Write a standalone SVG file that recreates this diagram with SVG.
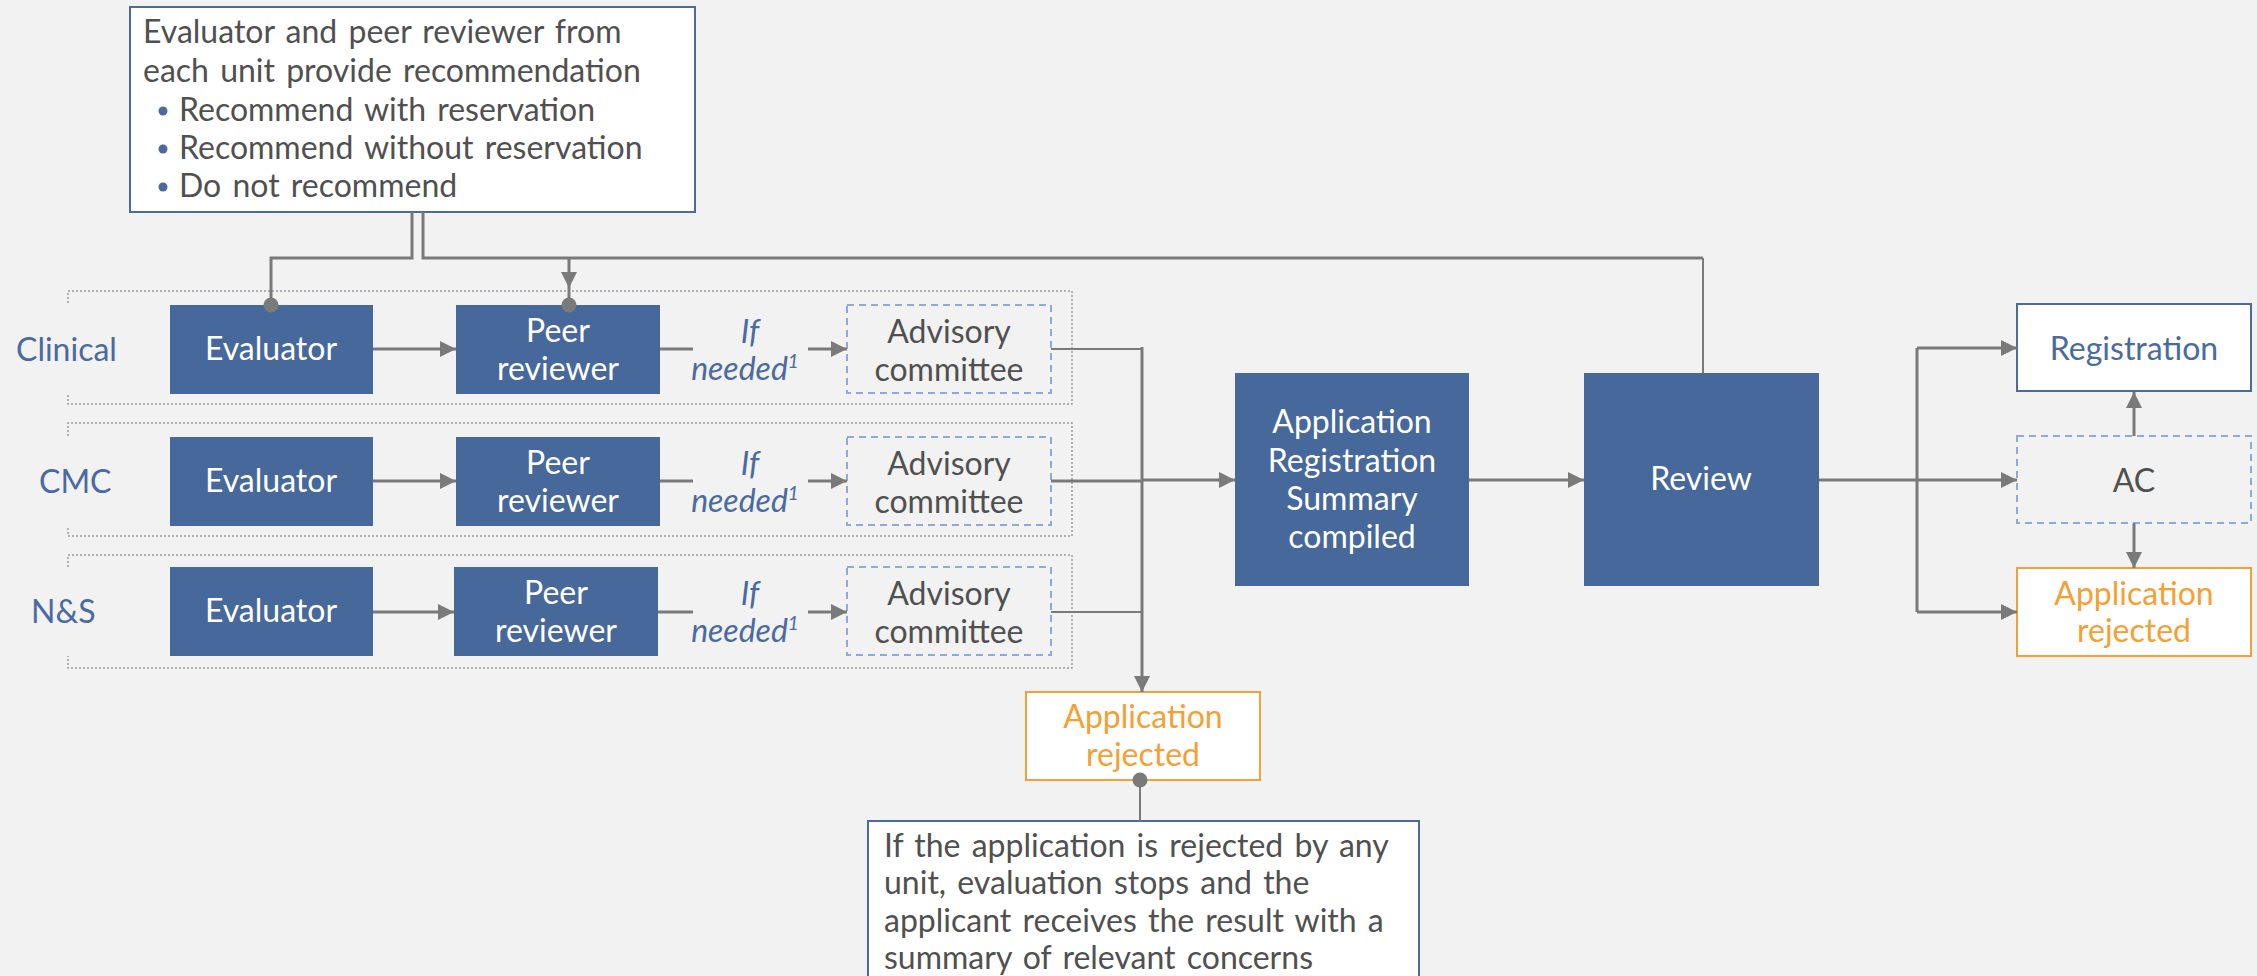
<svg xmlns="http://www.w3.org/2000/svg" width="2257" height="976" viewBox="0 0 2257 976">
<style>
.t{font-family:Lato,"Liberation Sans",sans-serif;font-size:32px}
.ws{word-spacing:3px}
.w{fill:#ffffff}
.g{fill:#505050}
.b{fill:#4a6aa0}
.o{fill:#f4a035}
.it{font-style:italic}
.m{text-anchor:middle}
.solid{fill:#47689b}
.dash{fill:none;stroke:#8eaadb;stroke-width:2;stroke-dasharray:7 5}
.grp{fill:none;stroke:#9a9a9a;stroke-width:1.5;stroke-dasharray:2 2}
.c{fill:none;stroke:#7a7a7a;stroke-width:3}
.c2{fill:none;stroke:#7a7a7a;stroke-width:2}
.dot{fill:#7a7a7a}
</style>
<defs>
<marker id="ah" markerUnits="userSpaceOnUse" markerWidth="17" markerHeight="17" refX="16" refY="8" orient="auto">
<path d="M0,0 L16,8 L0,16 z" fill="#7a7a7a"/>
</marker>
</defs>
<rect width="2257" height="976" fill="#f2f2f2"/>

<g id="groups">
<path class="grp" d="M68,303 V291 H1072 V404 H68 V395"/>
<path class="grp" d="M68,436 V423 H1072 V536 H68 V527"/>
<path class="grp" d="M68,567 V555 H1072 V668 H68 V656"/>
</g>

<g id="recommendation-note">
<rect x="130" y="7" width="565" height="205" fill="#ffffff" stroke="#4a6aa0" stroke-width="2"/>
<text class="t g ws" x="143" y="43">Evaluator and peer reviewer from</text>
<text class="t g ws" x="143" y="82">each unit provide recommendation</text>
<circle class="b" cx="163" cy="111" r="4.5"/>
<circle class="b" cx="163" cy="149" r="4.5"/>
<circle class="b" cx="163" cy="187" r="4.5"/>
<text class="t g ws" x="179" y="121">Recommend with reservation</text>
<text class="t g ws" x="179" y="159">Recommend without reservation</text>
<text class="t g ws" x="179" y="197">Do not recommend</text>
</g>

<g id="labels">
<text class="t b" x="16" y="361">Clinical</text>
<text class="t b" x="39" y="493">CMC</text>
<text class="t b" x="31" y="623">N&amp;S</text>
</g>

<g id="clinical-evaluator"><rect class="solid" x="170" y="305" width="203" height="89"/><text class="t w m" x="271" y="360">Evaluator</text></g>
<g id="clinical-peer"><rect class="solid" x="456" y="305" width="204" height="89"/><text class="t w m" x="558" y="342">Peer</text><text class="t w m" x="558" y="380">reviewer</text></g>
<g id="clinical-ifneeded"><text class="t b it m" x="750" y="343">If</text><text class="t b it m" x="745" y="380">needed<tspan font-size="19" dy="-12">1</tspan></text></g>
<g id="clinical-advisory"><rect class="dash" x="847" y="305" width="204" height="88"/><text class="t g m" x="949" y="343">Advisory</text><text class="t g m" x="949" y="381">committee</text></g>

<g id="cmc-evaluator"><rect class="solid" x="170" y="437" width="203" height="89"/><text class="t w m" x="271" y="492">Evaluator</text></g>
<g id="cmc-peer"><rect class="solid" x="456" y="437" width="204" height="89"/><text class="t w m" x="558" y="474">Peer</text><text class="t w m" x="558" y="512">reviewer</text></g>
<g id="cmc-ifneeded"><text class="t b it m" x="750" y="475">If</text><text class="t b it m" x="745" y="512">needed<tspan font-size="19" dy="-12">1</tspan></text></g>
<g id="cmc-advisory"><rect class="dash" x="847" y="437" width="204" height="88"/><text class="t g m" x="949" y="475">Advisory</text><text class="t g m" x="949" y="513">committee</text></g>

<g id="ns-evaluator"><rect class="solid" x="170" y="567" width="203" height="89"/><text class="t w m" x="271" y="622">Evaluator</text></g>
<g id="ns-peer"><rect class="solid" x="454" y="567" width="204" height="89"/><text class="t w m" x="556" y="604">Peer</text><text class="t w m" x="556" y="642">reviewer</text></g>
<g id="ns-ifneeded"><text class="t b it m" x="750" y="605">If</text><text class="t b it m" x="745" y="642">needed<tspan font-size="19" dy="-12">1</tspan></text></g>
<g id="ns-advisory"><rect class="dash" x="847" y="567" width="204" height="88"/><text class="t g m" x="949" y="605">Advisory</text><text class="t g m" x="949" y="643">committee</text></g>

<g id="summary"><rect class="solid" x="1235" y="373" width="234" height="213"/>
<text class="t w m" x="1352" y="433">Application</text>
<text class="t w m" x="1352" y="472">Registration</text>
<text class="t w m" x="1352" y="510">Summary</text>
<text class="t w m" x="1352" y="548">compiled</text></g>

<g id="review"><rect class="solid" x="1584" y="373" width="235" height="213"/><text class="t w m" x="1701" y="490">Review</text></g>

<g id="registration"><rect x="2017" y="304" width="234" height="87" fill="#ffffff" stroke="#4a6aa0" stroke-width="2"/><text class="t b m" x="2134" y="360">Registration</text></g>
<g id="ac"><rect class="dash" x="2017" y="436" width="234" height="87"/><text class="t g m" x="2134" y="492">AC</text></g>
<g id="rejected-right"><rect x="2017" y="568" width="234" height="88" fill="#ffffff" stroke="#f4a035" stroke-width="2"/><text class="t o m" x="2134" y="605">Application</text><text class="t o m" x="2134" y="642">rejected</text></g>

<g id="rejected-middle"><rect x="1026" y="692" width="234" height="88" fill="#ffffff" stroke="#f4a035" stroke-width="2"/><text class="t o m" x="1143" y="728">Application</text><text class="t o m" x="1143" y="766">rejected</text></g>

<g id="rejection-note">
<rect x="868" y="821" width="551" height="170" fill="#ffffff" stroke="#4a6aa0" stroke-width="2"/>
<text class="t g ws" x="884" y="857">If the application is rejected by any</text>
<text class="t g ws" x="884" y="894">unit, evaluation stops and the</text>
<text class="t g ws" x="884" y="932">applicant receives the result with a</text>
<text class="t g ws" x="884" y="969">summary of relevant concerns</text>
</g>

<g id="connectors">
<path class="c" d="M412,212 V258 H271 V305"/>
<path class="c" d="M423,212 V258 H1703"/>
<path class="c2" d="M1703,258 V373"/>
<path class="c" d="M569,258 V288" marker-end="url(#ah)"/>
<path class="c" d="M569,288 V305"/>
<circle class="dot" cx="271" cy="305" r="7.5"/>
<circle class="dot" cx="569" cy="305" r="7.5"/>

<path class="c" d="M373,349 H456" marker-end="url(#ah)"/>
<path class="c" d="M660,349 H693"/>
<path class="c" d="M808,349 H847" marker-end="url(#ah)"/>
<path class="c2" d="M1051,349 H1142"/>

<path class="c" d="M373,481 H456" marker-end="url(#ah)"/>
<path class="c" d="M660,481 H693"/>
<path class="c" d="M808,481 H847" marker-end="url(#ah)"/>
<path class="c" d="M1051,481 H1142"/>

<path class="c" d="M373,612 H454" marker-end="url(#ah)"/>
<path class="c" d="M658,612 H693"/>
<path class="c" d="M808,612 H847" marker-end="url(#ah)"/>
<path class="c2" d="M1051,612 H1142"/>

<path class="c" d="M1142,347 V692" marker-end="url(#ah)"/>
<path class="c" d="M1142,480 H1235" marker-end="url(#ah)"/>
<path class="c" d="M1469,480 H1584" marker-end="url(#ah)"/>
<path class="c" d="M1819,480 H1917"/>
<path class="c" d="M1917,348 V612"/>
<path class="c" d="M1917,348 H2017" marker-end="url(#ah)"/>
<path class="c" d="M1917,480 H2017" marker-end="url(#ah)"/>
<path class="c" d="M1917,612 H2017" marker-end="url(#ah)"/>
<path class="c" d="M2134,436 V392" marker-end="url(#ah)"/>
<path class="c" d="M2134,523 V568" marker-end="url(#ah)"/>
<path class="c2" d="M1140,780 V821"/>
<circle class="dot" cx="1140" cy="780" r="7.5"/>
</g>
</svg>
